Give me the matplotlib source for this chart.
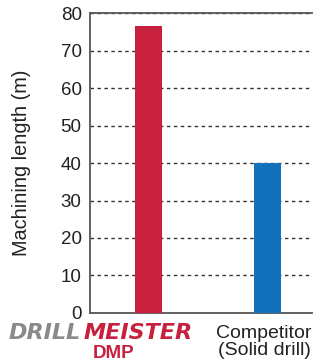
import matplotlib
matplotlib.use("Agg")
import matplotlib.pyplot as plt

products = ["DRILLMEISTER DMP", "Competitor\n(Solid drill)"]
lengths = [76.5, 40]
colors = ["#c8203f", "#1172bb"]
yticks = [0, 10, 20, 30, 40, 50, 60, 70, 80]

plt.rcParams['font.family'] = ['Liberation Sans', 'DejaVu Sans']

fig = plt.figure(figsize=(3.13, 3.62), dpi=100)
ax = fig.add_axes([0.2875, 0.1354, 0.7095, 0.8286])

ax.bar(range(len(lengths)), lengths, width=0.226, color=colors, zorder=3)
ax.set_xlim(-0.49, 1.37)
ax.set_ylim(0, 80)
ax.set_yticks(yticks)
ax.tick_params(axis='y', length=0, labelsize=13.5, pad=6, colors='#222222')
ax.set_xticks([])
ax.yaxis.grid(True, linestyle=(0, (2.5, 2.5)), color='#333333', linewidth=1)
ax.set_axisbelow(True)
for s in ['left', 'bottom', 'top']:
    ax.spines[s].set_color('#555555')
    ax.spines[s].set_linewidth(1.3)
ax.spines['right'].set_visible(False)
ax.set_ylabel("Machining length (m)", fontsize=14.3, color='#222222')
ax.yaxis.set_label_coords(-0.265, 0.5)

# logo-ish label under the first bar
W, H = 313, 362
logo_size = 16
t1 = fig.text(9 / W, 1 - 339 / H, "DRILL", color='#8a8a8a', fontsize=logo_size,
              family='DejaVu Sans', fontweight='bold', fontstyle='italic',
              va='baseline', ha='left')
fig.canvas.draw()
bb = t1.get_window_extent()
fig.text((bb.x1 + 2) / W, 1 - 339 / H, "MEISTER", color=colors[0], fontsize=logo_size,
         family='DejaVu Sans', fontweight='bold', fontstyle='italic',
         va='baseline', ha='left')
fig.text(114 / W, 1 - 357.5 / H, "DMP", color=colors[0], fontsize=13.5,
         fontweight='bold', va='baseline', ha='center')
fig.text(264 / W, 1 - 342 / H, products[1], color='#222222', fontsize=14,
         ha='center', va='center', linespacing=1.0)

fig.savefig("out.png", dpi=100)
